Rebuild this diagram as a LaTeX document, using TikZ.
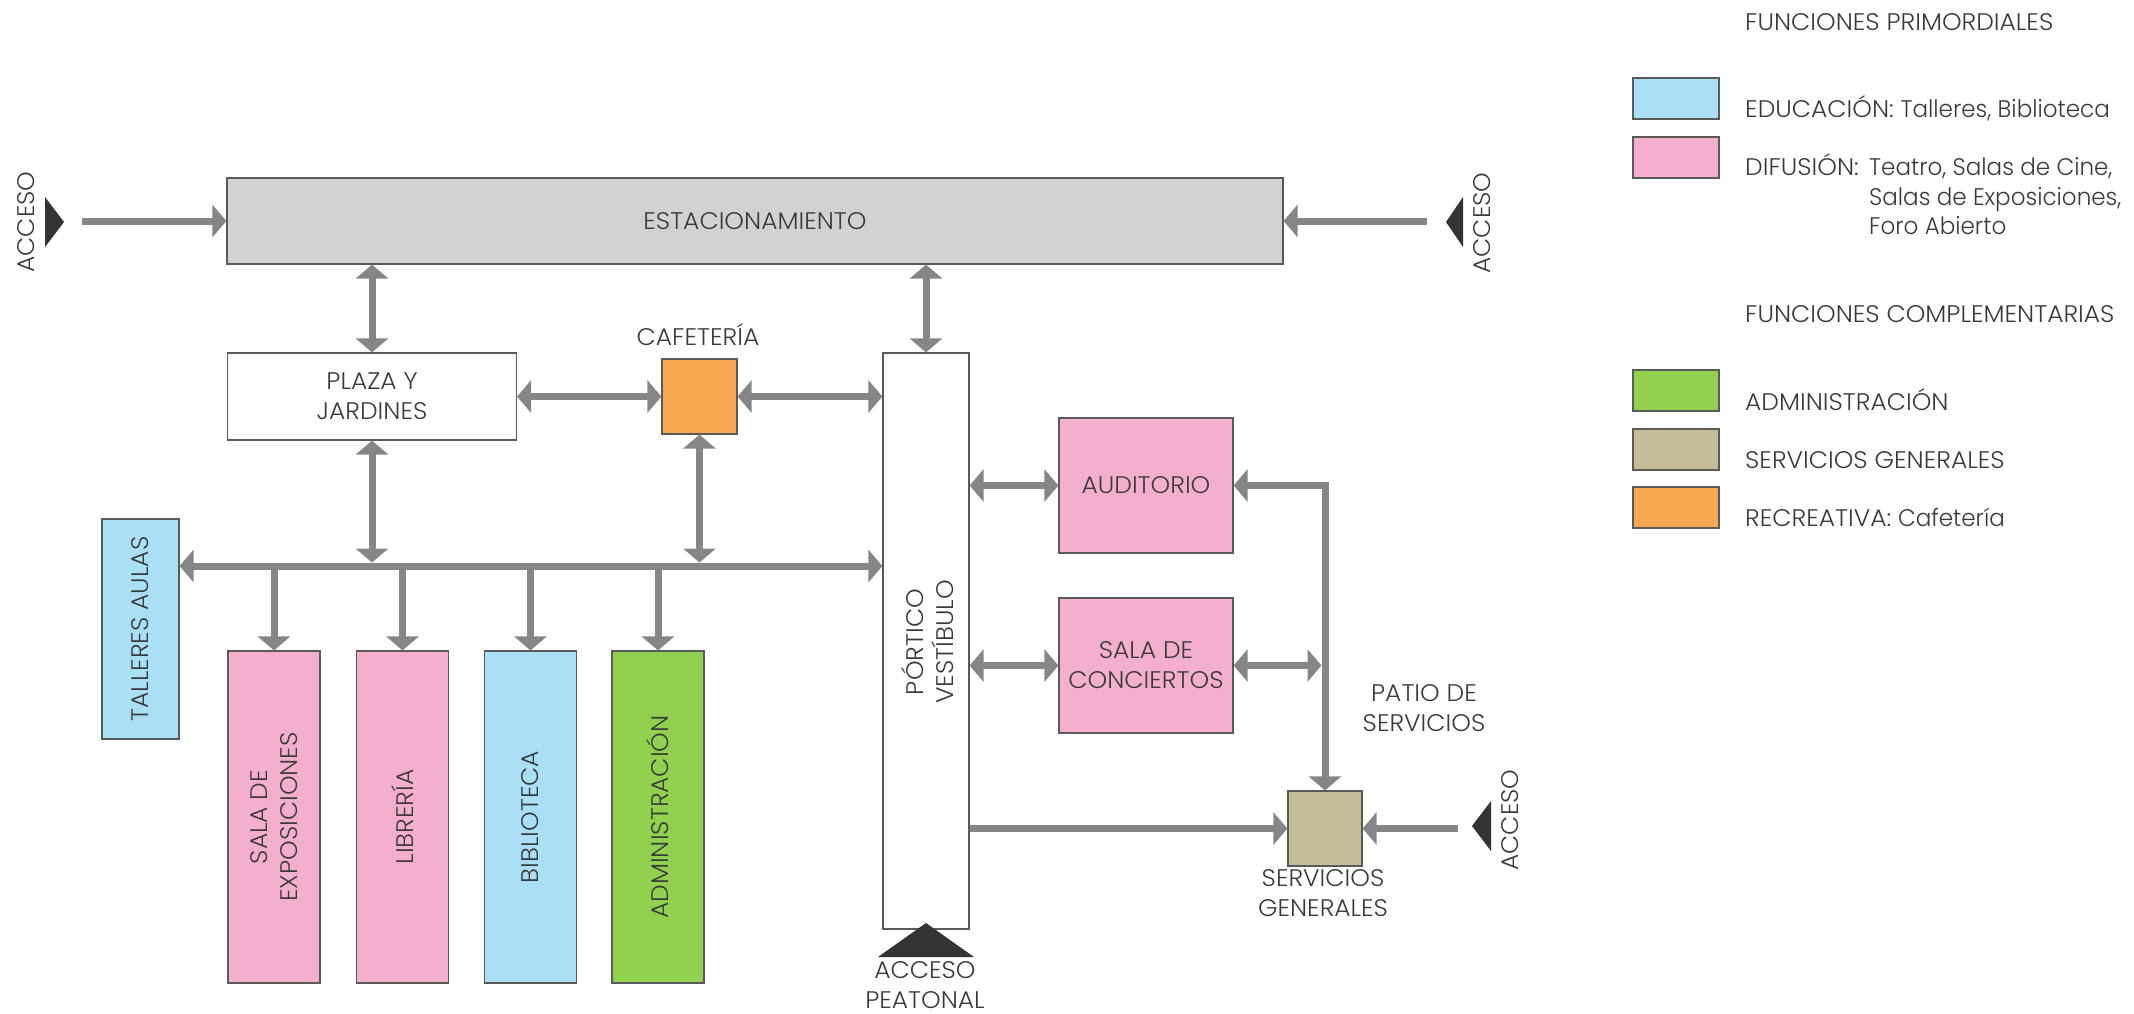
\documentclass[tikz,border=0pt]{standalone}
\usepackage{fontspec}
\setmainfont{Poppins Light}[FakeStretch=1.04]
\newfontfamily\lcfont[FakeStretch=0.96]{Poppins Light}
\usetikzlibrary{arrows.meta,calc}
\definecolor{arr}{HTML}{858688}
\definecolor{txt}{HTML}{3A3A3A}
\definecolor{edge}{HTML}{5A5A5A}
\definecolor{cgray}{HTML}{D1D2D4}
\definecolor{cblue}{HTML}{ABDFF6}
\definecolor{cpink}{HTML}{F4AFCF}
\definecolor{cgreen}{HTML}{92D050}
\definecolor{ctan}{HTML}{C4BD98}
\definecolor{corange}{HTML}{F8A852}
\definecolor{cdark}{HTML}{333333}
\begin{document}
\begin{tikzpicture}[x=1pt,y=-1pt,
  every node/.style={font=\fontsize{24}{30}\selectfont, text=txt},
  box/.style={draw=edge, line width=1.2pt, inner sep=0pt, align=center},
  lbl/.style={align=center, inner sep=0pt},
  flow/.style={draw=arr, line width=7pt, -{Triangle[width=32pt,length=14pt]}},
  flowtwo/.style={draw=arr, line width=7pt, {Triangle[width=32pt,length=14pt]}-{Triangle[width=32pt,length=14pt]}},
  accmark/.style={fill=cdark},
  swatch/.style={draw=edge, line width=1.2pt, minimum width=86pt, minimum height=41pt, inner sep=0pt},
  legtext/.style={anchor=base west, inner sep=0pt}
]
\useasboundingbox (0,0) rectangle (2134,1013);

% main boxes
\node[box, fill=cgray, minimum width=1056pt, minimum height=86pt] (estac) at (755,221) {ESTACIONAMIENTO};
\node[box, fill=white, minimum width=289pt, minimum height=87pt] (plaza) at (372,396.5) {PLAZA Y\\JARDINES};
\node[box, fill=corange, minimum width=75pt, minimum height=75pt] (cafe) at (699.5,396.5) {};
\node[lbl] (cafelbl) at (698,335) {CAFETERÍA};
\node[box, fill=white, minimum width=86pt, minimum height=576pt] (port) at (926,641) {};
\node[lbl, rotate=90] (portlbl) at (928,642) {PÓRTICO\\VESTÍBULO};
\node[box, fill=cpink, minimum width=174pt, minimum height=135pt] (aud) at (1146,485.5) {AUDITORIO};
\node[box, fill=cpink, minimum width=174pt, minimum height=135pt] (conc) at (1146,665.5) {SALA DE\\CONCIERTOS};
\node[box, fill=ctan, minimum width=74pt, minimum height=75pt] (serv) at (1325,828.5) {};
\node[lbl] (servlbl) at (1323,893) {SERVICIOS\\GENERALES};
\node[lbl] (patio) at (1424,708) {PATIO DE\\SERVICIOS};

\node[box, fill=cblue, minimum width=77pt, minimum height=220pt] (tall) at (140.5,629) {};
\node[lbl, rotate=90] (talllbl) at (tall) {TALLERES AULAS};
\node[box, fill=cpink, minimum width=92pt, minimum height=332pt] (sala) at (274,817) {};
\node[lbl, rotate=90] (salalbl) at (sala) {SALA DE\\EXPOSICIONES};
\node[box, fill=cpink, minimum width=92pt, minimum height=332pt] (libr) at (402.5,817) {};
\node[lbl, rotate=90] (librlbl) at (libr) {LIBRERÍA};
\node[box, fill=cblue, minimum width=92pt, minimum height=332pt] (bibl) at (530.5,817) {};
\node[lbl, rotate=90] (bibllbl) at (bibl) {BIBLIOTECA};
\node[box, fill=cgreen, minimum width=92pt, minimum height=332pt] (admin) at (658,817) {};
\node[lbl, rotate=90] (adminlbl) at (admin) {ADMINISTRACIÓN};

% access marks
\fill[accmark] (45,197) -- (45,247) -- (64,222) -- cycle;
\node[lbl, rotate=90] (accLlbl) at (26,222) {ACCESO};
\fill[accmark] (1463,197) -- (1463,247) -- (1446,222) -- cycle;
\node[lbl, rotate=90] (accRlbl) at (1482,223) {ACCESO};
\fill[accmark] (1491,801) -- (1491,851) -- (1472,826) -- cycle;
\node[lbl, rotate=90] (accSlbl) at (1510,820) {ACCESO};
\fill[accmark] (878,957) -- (974,957) -- (926,923) -- cycle;
\node[lbl] (accPlbl) at (925,985) {ACCESO\\PEATONAL};

\coordinate (accL) at (82,221);
\coordinate (accR) at (1427,221);
\coordinate (accS) at (1458,828.5);
\coordinate (bus) at (0,566);

% connectors
\draw[flow] (accL) -- (estac.west);
\draw[flow] (accR) -- (estac.east);
\draw[flowtwo] (estac.south -| plaza) -- (plaza.north);
\draw[flowtwo] (estac.south -| port) -- (port.north);
\draw[flowtwo] (plaza.east) -- (cafe.west);
\draw[flowtwo] (cafe.east) -- (cafe.east -| port.west);
\draw[flowtwo] (tall.east |- bus) -- (port.west |- bus);
\draw[flowtwo] (plaza.south) -- ($(plaza.south |- bus)+(0,-3.5)$);
\draw[flowtwo] (cafe.south) -- ($(cafe.south |- bus)+(0,-3.5)$);
\draw[flow] (sala.north |- bus) -- (sala.north);
\draw[flow] (libr.north |- bus) -- (libr.north);
\draw[flow] (bibl.north |- bus) -- (bibl.north);
\draw[flow] (admin.north |- bus) -- (admin.north);
\draw[flowtwo] (port.east |- aud) -- (aud.west);
\draw[flowtwo] (port.east |- conc) -- (conc.west);
\draw[flowtwo] (aud.east) -- (serv.north |- aud.east) -- (serv.north);
\draw[flowtwo] (conc.east) -- ($(conc.east -| serv.north)+(-3.5,0)$);
\draw[flow] (port.east |- serv) -- (serv.west);
\draw[flow] (accS) -- (serv.east);

% legend
\node[legtext] (lg1) at (1745,30) {FUNCIONES PRIMORDIALES};
\node[swatch, fill=cblue] (swedu) at (1676,98.5) {};
\node[legtext] (lgedu) at (1745,117.5) {EDUCACIÓN: {\lcfont Talleres, Biblioteca}};
\node[swatch, fill=cpink] (swdif) at (1676,157.5) {};
\node[legtext] (lgdif) at (1745,175.5) {DIFUSIÓN:};
\node[legtext] (lgdifa) at (1869,175.5) {\lcfont Teatro, Salas de Cine,};
\node[legtext] (lgdifb) at (1869,205) {\lcfont Salas de Exposiciones,};
\node[legtext] (lgdifc) at (1869,234.5) {\lcfont Foro Abierto};
\node[legtext] (lg2) at (1745,322.5) {FUNCIONES COMPLEMENTARIAS};
\node[swatch, fill=cgreen] (swadm) at (1676,390.5) {};
\node[legtext] (lgadm) at (1745,410.5) {ADMINISTRACIÓN};
\node[swatch, fill=ctan] (swserv) at (1676,449.5) {};
\node[legtext] (lgserv) at (1745,468) {SERVICIOS GENERALES};
\node[swatch, fill=corange] (swrec) at (1676,507.5) {};
\node[legtext] (lgrec) at (1745,526) {RECREATIVA: {\lcfont Cafetería}};
\end{tikzpicture}
\end{document}
